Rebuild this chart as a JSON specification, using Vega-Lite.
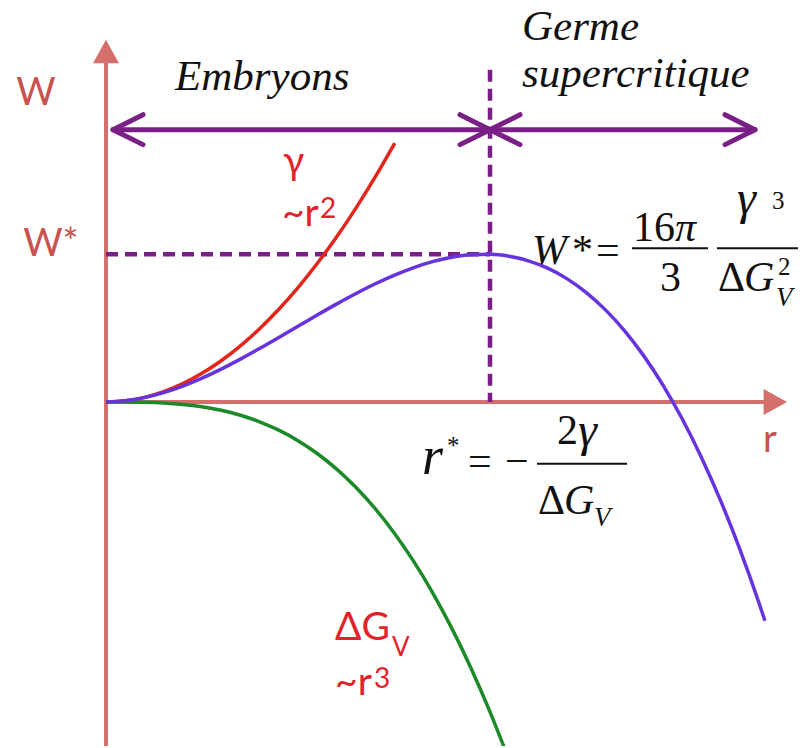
{
  "$schema": "https://vega.github.io/schema/vega-lite/v6.json",
  "width": 803,
  "height": 748,
  "autosize": {"type": "fit", "contains": "padding"},
  "padding": 0,
  "background": "white",
  "config": {"view": {"stroke": null}},
  "datasets": {
    "axes": [
      {"r": 0, "W": -2.331, "r2": 0, "W2": 2.304},
      {"r": 0, "W": 0, "r2": 1.716, "W2": 0}
    ],
    "axisTipUp": [{"r": 0, "W": 2.3649}],
    "axisTipRight": [{"r": 1.7396, "W": 0}],
    "dashed": [
      {"r": 1.0, "W": 2.25, "r2": 1.0, "W2": 0},
      {"r": 0, "W": 1.0, "r2": 1.0, "W2": 1.0}
    ],
    "gammaCurve": [
      {"r": 0, "W": 0}, {"r": 0.05, "W": 0.0078}, {"r": 0.1, "W": 0.031}, {"r": 0.15, "W": 0.0698},
      {"r": 0.2, "W": 0.124}, {"r": 0.25, "W": 0.1938}, {"r": 0.3, "W": 0.279}, {"r": 0.35, "W": 0.3798},
      {"r": 0.4, "W": 0.496}, {"r": 0.45, "W": 0.6278}, {"r": 0.5, "W": 0.775}, {"r": 0.55, "W": 0.9378},
      {"r": 0.6, "W": 1.116}, {"r": 0.65, "W": 1.3098}, {"r": 0.7, "W": 1.519}, {"r": 0.752, "W": 1.753}
    ],
    "dgCurve": [
      {"r": 0, "W": 0}, {"r": 0.05, "W": -0.0003}, {"r": 0.1, "W": -0.0021}, {"r": 0.15, "W": -0.0071},
      {"r": 0.2, "W": -0.0168}, {"r": 0.25, "W": -0.0328}, {"r": 0.3, "W": -0.0567}, {"r": 0.35, "W": -0.09},
      {"r": 0.4, "W": -0.1344}, {"r": 0.45, "W": -0.1914}, {"r": 0.5, "W": -0.2625}, {"r": 0.55, "W": -0.3494},
      {"r": 0.6, "W": -0.4536}, {"r": 0.65, "W": -0.5767}, {"r": 0.7, "W": -0.7203}, {"r": 0.75, "W": -0.8859},
      {"r": 0.8, "W": -1.0752}, {"r": 0.85, "W": -1.2897}, {"r": 0.9, "W": -1.5309}, {"r": 0.95, "W": -1.8005},
      {"r": 1.0, "W": -2.1}, {"r": 1.04, "W": -2.3622}
    ],
    "wCurve": [
      {"r": 0, "W": 0}, {"r": 0.05, "W": 0.0075}, {"r": 0.1, "W": 0.0289}, {"r": 0.15, "W": 0.0627},
      {"r": 0.2, "W": 0.1072}, {"r": 0.25, "W": 0.1609}, {"r": 0.3, "W": 0.2223}, {"r": 0.35, "W": 0.2897},
      {"r": 0.4, "W": 0.3616}, {"r": 0.45, "W": 0.4364}, {"r": 0.5, "W": 0.5125}, {"r": 0.55, "W": 0.5884},
      {"r": 0.6, "W": 0.6624}, {"r": 0.65, "W": 0.733}, {"r": 0.7, "W": 0.7987}, {"r": 0.75, "W": 0.8578},
      {"r": 0.8, "W": 0.9088}, {"r": 0.85, "W": 0.9501}, {"r": 0.9, "W": 0.9801}, {"r": 0.95, "W": 0.9973},
      {"r": 1.0, "W": 1.0}, {"r": 1.05, "W": 0.9867}, {"r": 1.1, "W": 0.9559}, {"r": 1.15, "W": 0.9059},
      {"r": 1.2, "W": 0.8352}, {"r": 1.25, "W": 0.7422}, {"r": 1.3, "W": 0.6253}, {"r": 1.35, "W": 0.483},
      {"r": 1.4, "W": 0.3136}, {"r": 1.45, "W": 0.1156}, {"r": 1.5, "W": -0.1125}, {"r": 1.55, "W": -0.3724},
      {"r": 1.6, "W": -0.6656}, {"r": 1.65, "W": -0.9937}, {"r": 1.7, "W": -1.3583}, {"r": 1.716, "W": -1.4829}
    ],
    "arrowShafts": [
      {"r": 0.0182, "W": 1.8446, "r2": 1.0, "W2": 1.8446},
      {"r": 1.0, "W": 1.8446, "r2": 1.6901, "W2": 1.8446}
    ],
    "arrowHeads": [
      {"r": 0.0182, "W": 1.8446, "r2": 0.0964, "W2": 1.9459},
      {"r": 0.0182, "W": 1.8446, "r2": 0.0964, "W2": 1.7432},
      {"r": 1.0, "W": 1.8446, "r2": 0.9219, "W2": 1.9459},
      {"r": 1.0, "W": 1.8446, "r2": 0.9219, "W2": 1.7432},
      {"r": 1.0, "W": 1.8446, "r2": 1.0781, "W2": 1.9459},
      {"r": 1.0, "W": 1.8446, "r2": 1.0781, "W2": 1.7432},
      {"r": 1.6901, "W": 1.8446, "r2": 1.612, "W2": 1.9459},
      {"r": 1.6901, "W": 1.8446, "r2": 1.612, "W2": 1.7432}
    ],
    "fractionBars": [
      {"r": 1.3698, "W": 1.0405, "r2": 1.5677, "W2": 1.0405},
      {"r": 1.5911, "W": 1.0405, "r2": 1.8021, "W2": 1.0405},
      {"r": 1.1224, "W": -0.4189, "r2": 1.3568, "W2": -0.4189}
    ],
    "axisLabels": [
      {"r": -0.1823, "W": 2.0135, "t": "W"},
      {"r": -0.1432, "W": 0.9865, "t": "W*"},
      {"r": 1.7292, "W": -0.3378, "t": "r"}
    ],
    "curveLabels": [
      {"r": 0.4609, "W": 1.5473, "t": "γ"},
      {"r": 0.4583, "W": 1.1892, "t": "~r"},
      {"r": 0.5964, "W": -1.6149, "t": "ΔG"},
      {"r": 0.5964, "W": -1.9865, "t": "~r"}
    ],
    "curveLabelSub": [{"r": 0.7448, "W": -1.723, "t": "V"}],
    "curveLabelSup": [
      {"r": 0.5573, "W": 1.2432, "t": "2"},
      {"r": 0.6979, "W": -1.9392, "t": "3"}
    ],
    "regionTitles": [
      {"r": 0.1797, "W": 2.1149, "t": "Embryons"},
      {"r": 1.0833, "W": 2.4527, "t": "Germe"},
      {"r": 1.0833, "W": 2.1351, "t": "supercritique"}
    ],
    "mathItalic": [
      {"r": 1.1094, "W": 0.9324, "t": "W"},
      {"r": 1.4818, "W": 1.0878, "t": "π"},
      {"r": 1.6615, "W": 0.75, "t": "G"},
      {"r": 1.1927, "W": -0.7568, "t": "G"}
    ],
    "mathGreek": [
      {"r": 1.6432, "W": 1.2703, "t": "γ"},
      {"r": 1.2292, "W": -0.2973, "t": "γ"}
    ],
    "mathItalicSmall": [
      {"r": 1.7448, "W": 0.6486, "t": "V"},
      {"r": 1.2708, "W": -0.8378, "t": "V"}
    ],
    "mathItalicLarge": [{"r": 0.8229, "W": -0.4865, "t": "r"}],
    "mathUpright": [
      {"r": 1.2135, "W": 0.9324, "t": "*"},
      {"r": 1.276, "W": 0.9324, "t": "="},
      {"r": 1.3724, "W": 1.0878, "t": "16"},
      {"r": 1.4427, "W": 0.75, "t": "3"},
      {"r": 1.5938, "W": 0.75, "t": "Δ"},
      {"r": 0.9427, "W": -0.4932, "t": "="},
      {"r": 1.0391, "W": -0.4932, "t": "−"},
      {"r": 1.1745, "W": -0.2838, "t": "2"},
      {"r": 1.125, "W": -0.7568, "t": "Δ"}
    ],
    "mathUprightSmall": [
      {"r": 1.7344, "W": 1.3041, "t": "3"},
      {"r": 1.75, "W": 0.8581, "t": "2"},
      {"r": 0.888, "W": -0.3514, "t": "*"}
    ]
  },
  "encoding": {
    "x": {"field": "r", "type": "quantitative", "axis": null,
          "scale": {"domain": [-0.27604, 1.8151], "nice": false, "zero": false}},
    "y": {"field": "W", "type": "quantitative", "axis": null,
          "scale": {"domain": [-2.33108, 2.72297], "nice": false, "zero": false}}
  },
  "layer": [
    {
      "data": {"name": "axes"},
      "mark": {"type": "rule", "color": "#d56f6b", "strokeWidth": 4},
      "encoding": {"x2": {"field": "r2"}, "y2": {"field": "W2"}}
    },
    {
      "data": {"name": "axisTipUp"},
      "mark": {"type": "point", "shape": "M0,-1L1,0.8L-1,0.8Z", "size": 676, "filled": true, "opacity": 1, "color": "#d56f6b", "strokeWidth": 0}
    },
    {
      "data": {"name": "axisTipRight"},
      "mark": {"type": "point", "shape": "M1,0L-0.8,1L-0.8,-1Z", "size": 676, "filled": true, "opacity": 1, "color": "#d56f6b", "strokeWidth": 0}
    },
    {
      "data": {"name": "dashed"},
      "mark": {"type": "rule", "color": "#7a1f85", "strokeWidth": 4.5, "strokeDash": [12, 7]},
      "encoding": {"x2": {"field": "r2"}, "y2": {"field": "W2"}}
    },
    {
      "data": {"name": "gammaCurve"},
      "mark": {"type": "line", "color": "#e2261c", "strokeWidth": 3.5, "interpolate": "monotone"}
    },
    {
      "data": {"name": "dgCurve"},
      "mark": {"type": "line", "color": "#1c8a28", "strokeWidth": 3.5, "interpolate": "monotone", "clip": true}
    },
    {
      "data": {"name": "wCurve"},
      "mark": {"type": "line", "color": "#6633dd", "strokeWidth": 3.5, "interpolate": "monotone"}
    },
    {
      "data": {"name": "arrowShafts"},
      "mark": {"type": "rule", "color": "#7a1f85", "strokeWidth": 5},
      "encoding": {"x2": {"field": "r2"}, "y2": {"field": "W2"}}
    },
    {
      "data": {"name": "arrowHeads"},
      "mark": {"type": "rule", "color": "#7a1f85", "strokeWidth": 5, "strokeCap": "round"},
      "encoding": {"x2": {"field": "r2"}, "y2": {"field": "W2"}}
    },
    {
      "data": {"name": "fractionBars"},
      "mark": {"type": "rule", "color": "#111111", "strokeWidth": 2},
      "encoding": {"x2": {"field": "r2"}, "y2": {"field": "W2"}}
    },
    {
      "data": {"name": "axisLabels"},
      "mark": {"type": "text", "font": "Lato, 'Noto Sans', sans-serif", "fontSize": 38, "color": "#c9524e", "align": "center", "baseline": "alphabetic"},
      "encoding": {"text": {"field": "t"}}
    },
    {
      "data": {"name": "curveLabels"},
      "mark": {"type": "text", "font": "Lato, 'Noto Sans', sans-serif", "fontSize": 39, "color": "#e3222b", "align": "left", "baseline": "alphabetic"},
      "encoding": {"text": {"field": "t"}}
    },
    {
      "data": {"name": "curveLabelSub"},
      "mark": {"type": "text", "font": "Lato, 'Noto Sans', sans-serif", "fontSize": 26, "color": "#e3222b", "align": "left", "baseline": "alphabetic"},
      "encoding": {"text": {"field": "t"}}
    },
    {
      "data": {"name": "curveLabelSup"},
      "mark": {"type": "text", "font": "Lato, 'Noto Sans', sans-serif", "fontSize": 28, "color": "#e3222b", "align": "left", "baseline": "alphabetic"},
      "encoding": {"text": {"field": "t"}}
    },
    {
      "data": {"name": "regionTitles"},
      "mark": {"type": "text", "font": "Liberation Serif, Times New Roman, serif", "fontStyle": "italic", "fontSize": 43, "color": "#111111", "align": "left", "baseline": "alphabetic"},
      "encoding": {"text": {"field": "t"}}
    },
    {
      "data": {"name": "mathItalic"},
      "mark": {"type": "text", "font": "Liberation Serif, Times New Roman, serif", "fontStyle": "italic", "fontSize": 42, "color": "#111111", "align": "left", "baseline": "alphabetic"},
      "encoding": {"text": {"field": "t"}}
    },
    {
      "data": {"name": "mathGreek"},
      "mark": {"type": "text", "font": "Liberation Serif, Times New Roman, serif", "fontStyle": "italic", "fontSize": 48, "color": "#111111", "align": "left", "baseline": "alphabetic"},
      "encoding": {"text": {"field": "t"}}
    },
    {
      "data": {"name": "mathItalicSmall"},
      "mark": {"type": "text", "font": "Liberation Serif, Times New Roman, serif", "fontStyle": "italic", "fontSize": 27, "color": "#111111", "align": "left", "baseline": "alphabetic"},
      "encoding": {"text": {"field": "t"}}
    },
    {
      "data": {"name": "mathItalicLarge"},
      "mark": {"type": "text", "font": "Liberation Serif, Times New Roman, serif", "fontStyle": "italic", "fontSize": 54, "color": "#111111", "align": "left", "baseline": "alphabetic"},
      "encoding": {"text": {"field": "t"}}
    },
    {
      "data": {"name": "mathUpright"},
      "mark": {"type": "text", "font": "Liberation Serif, Times New Roman, serif", "fontSize": 42, "color": "#111111", "align": "left", "baseline": "alphabetic"},
      "encoding": {"text": {"field": "t"}}
    },
    {
      "data": {"name": "mathUprightSmall"},
      "mark": {"type": "text", "font": "Liberation Serif, Times New Roman, serif", "fontSize": 25, "color": "#111111", "align": "left", "baseline": "alphabetic"},
      "encoding": {"text": {"field": "t"}}
    }
  ]
}
